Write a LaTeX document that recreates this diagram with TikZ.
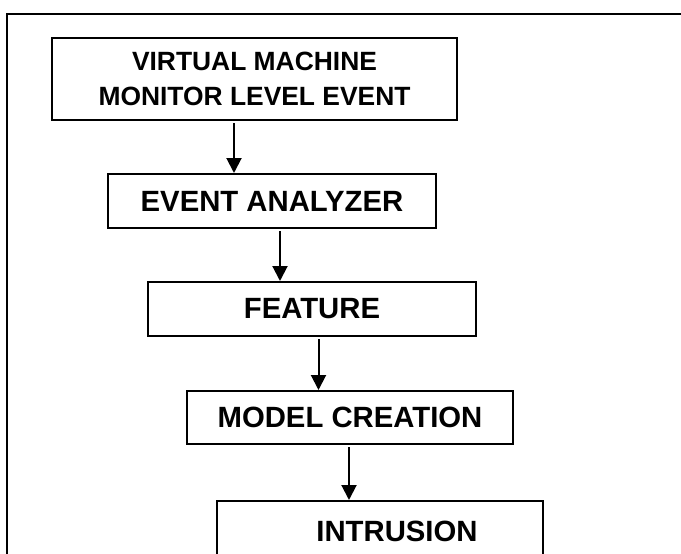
\documentclass[tikz,border=0pt]{standalone}
\usepackage{fontspec}
\setmainfont{Liberation Sans}
\usetikzlibrary{arrows.meta}
\begin{document}
\begin{tikzpicture}[x=1pt,y=-1pt,
  box/.style={draw=black, line width=2pt, inner sep=0pt, align=center,
    font=\bfseries\fontsize{29.3}{34}\selectfont},
  arr/.style={line width=2pt, -{Triangle[width=15pt,length=15pt]}, shorten <=2pt},
  frame/.style={line width=2.2pt}]
\useasboundingbox (0,0) rectangle (681,554);
\coordinate (ftop) at (683,14);
\coordinate (fcorner) at (7,14);
\coordinate (fbot) at (7,558);
\draw[frame] (ftop) -- (fcorner) -- (fbot);
\node[box, minimum width=405pt, minimum height=82pt,
  font=\bfseries\fontsize{26.4}{35}\selectfont] (b1) at (254.5,79)
  {VIRTUAL MACHINE\\MONITOR LEVEL EVENT};
\node[box, minimum width=328pt, minimum height=54pt] (b2) at (272,201) {EVENT ANALYZER};
\node[box, minimum width=328pt, minimum height=54pt] (b3) at (312,309) {FEATURE};
\node[box, minimum width=326pt, minimum height=53pt] (b4) at (350,417.5) {MODEL CREATION};
\node[box, minimum width=326pt, text height=40pt, text depth=22pt, anchor=north] (b5) at (380,500) {\hspace*{34pt}INTRUSION};
\draw[arr] ([xshift=-20.5pt]b1.south) -- ([xshift=-38pt]b2.north);
\draw[arr] ([xshift=8pt]b2.south) -- ([xshift=-32pt]b3.north);
\draw[arr] ([xshift=6.5pt]b3.south) -- ([xshift=-31.5pt]b4.north);
\draw[arr] ([xshift=-1pt]b4.south) -- ([xshift=-31pt]b5.north);
\end{tikzpicture}
\end{document}
